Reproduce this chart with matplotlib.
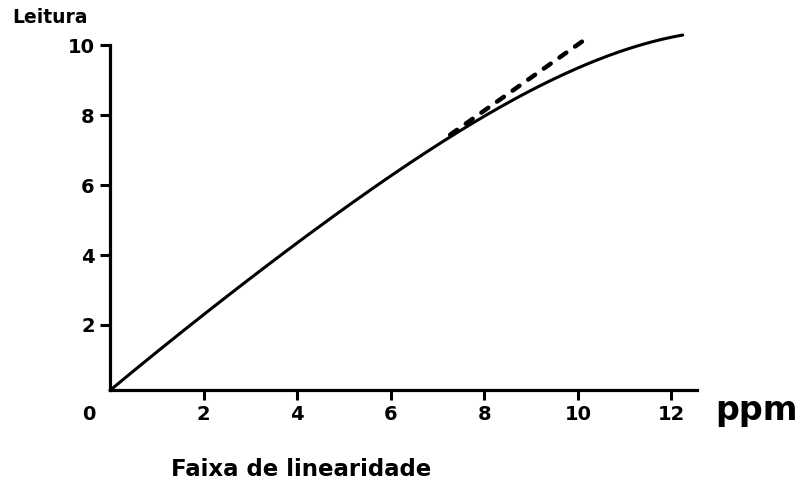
import matplotlib.pyplot as plt
import numpy as np

# 曲线数据 (读自图片)
ppm = [0, 1.35, 2.93, 4.34, 5.78, 6.63, 7.27, 8.77, 9.84, 10.84, 12.24]
leitura = [0.14, 1.57, 3.29, 4.71, 6.06, 6.77, 7.34, 8.63, 9.29, 9.71, 10.31]

# 线性外推 (虚线)
ppm_lin = [7.27, 10.16]
leitura_lin = [7.44, 10.17]

xticks = [2, 4, 6, 8, 10, 12]
yticks = [2, 4, 6, 8, 10]

plt.rcParams['font.family'] = ['DejaVu Sans']

fig = plt.figure(figsize=(8, 4.83), dpi=100)
ax = fig.add_axes([0.1375, 0.1925, 0.734, 0.714])

# 平滑曲线
p = np.polyfit(ppm, leitura, 4)
xs = np.linspace(0, ppm[-1], 200)
ax.plot(xs, np.polyval(p, xs), color='black', lw=2.2, clip_on=False,
        solid_capstyle='round')
ax.plot(ppm_lin, leitura_lin, color='black', lw=3.2, ls=(0, (1.9, 2.4)),
        clip_on=False, dash_capstyle='round')

ax.set_xlim(0, 12.55)
ax.set_ylim(0.14, 10)
ax.set_xticks(xticks)
ax.set_yticks(yticks)
ax.tick_params(direction='out', length=7, width=2.2, labelsize=14, pad=4)
for lab in ax.get_xticklabels() + ax.get_yticklabels():
    lab.set_fontweight('heavy')

for s in ['top', 'right']:
    ax.spines[s].set_visible(False)
for s in ['left', 'bottom']:
    ax.spines[s].set_linewidth(2.3)

ax.text(-0.45, -0.3, '0', ha='center', va='top', fontsize=14,
        fontweight='heavy', transform=ax.transData)
fig.text(0.946, 0.15, 'ppm', ha='center', va='center', fontsize=24,
         fontweight='heavy')
fig.text(0.015, 0.963, 'Leitura', ha='left', va='center', fontsize=13.5,
         fontweight='heavy')
fig.text(0.376, 0.028, 'Faixa de linearidade', ha='center', va='center',
         fontsize=16.5, fontweight='heavy')

fig.savefig('out.png', dpi=100)
